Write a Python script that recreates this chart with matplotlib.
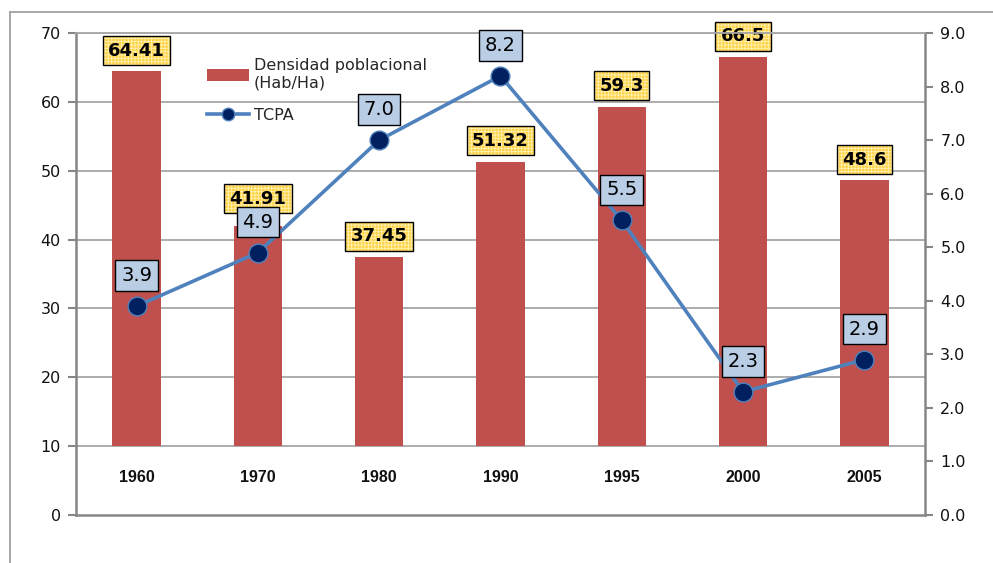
import matplotlib
matplotlib.use("Agg")
import matplotlib.pyplot as plt
from matplotlib.lines import Line2D
from matplotlib.patches import Patch

years = ["1960", "1970", "1980", "1990", "1995", "2000", "2005"]
densidad = [64.41, 41.91, 37.45, 51.32, 59.3, 66.5, 48.6]
densidad_labels = ["64.41", "41.91", "37.45", "51.32", "59.3", "66.5", "48.6"]
tcpa = [3.9, 4.9, 7.0, 8.2, 5.5, 2.3, 2.9]
tcpa_labels = ["3.9", "4.9", "7.0", "8.2", "5.5", "2.3", "2.9"]
left_ticks = [0, 10, 20, 30, 40, 50, 60, 70]
right_ticks = [0, 1, 2, 3, 4, 5, 6, 7, 8, 9]

plt.rcParams["font.family"] = ["DejaVu Sans"]
plt.rcParams["hatch.linewidth"] = 0.6

BAR = "#C0504D"
LINE = "#4F81BD"
MARK = "#002060"
GRID = "#A6A6A6"
AXC = "#868686"

fig = plt.figure(figsize=(9.93, 5.63), dpi=100)
ax = fig.add_axes([76 / 993, 48 / 563, 849 / 993, 482 / 563])
ax2 = ax.twinx()

x = list(range(len(years)))
base = 10
ax.bar(x, [d - base for d in densidad], bottom=base, width=0.40, color=BAR, zorder=2)
ax.set_xlim(-0.5, len(years) - 0.5)
ax.set_ylim(0, 70)
ax.set_yticks(left_ticks)
ax.set_yticklabels([str(t) for t in left_ticks], fontsize=11.5)
ax.set_xticks([])
for yv in left_ticks[1:]:
    ax.axhline(yv, color=GRID, lw=1.3, zorder=1)
for s in ["left", "bottom"]:
    ax.spines[s].set_color(AXC)
    ax.spines[s].set_linewidth(1.8)
ax.spines["top"].set_visible(False)
ax.spines["right"].set_visible(False)
ax.tick_params(axis="y", colors=AXC, length=6, width=1.5, labelcolor="#111111", pad=5)

for i, y in enumerate(years):
    ax.text(i, 5.4, y, ha="center", va="center", fontsize=11.5,
            fontweight="bold", family="Liberation Sans", color="#111111")

for i, (d, lab) in enumerate(zip(densidad, densidad_labels)):
    off = 20 if i == 1 else 15
    ax.annotate(lab, (i, d), xytext=(0, off), textcoords="offset points",
                ha="center", va="center", fontsize=13, fontweight="bold",
                color="#FFD966", zorder=5,
                bbox=dict(boxstyle="square,pad=0.3", fc="#FFD24A", ec="#FFF2B0",
                          lw=0, hatch="+++++"))
    ax.annotate(lab, (i, d), xytext=(0, off), textcoords="offset points",
                ha="center", va="center", fontsize=13, fontweight="bold",
                color="black", zorder=6,
                bbox=dict(boxstyle="square,pad=0.3", fc="none", ec="black", lw=1.0))

ax2.plot(x, tcpa, color=LINE, lw=2.6, marker="o", markersize=13.5,
         markerfacecolor=MARK, markeredgecolor=LINE, markeredgewidth=1.0, zorder=3)
ax2.set_ylim(0, 9)
ax2.set_yticks(right_ticks)
ax2.set_yticklabels([f"{t:.1f}" for t in right_ticks], fontsize=11.5)
ax2.tick_params(axis="y", colors=AXC, length=6, width=1.5, labelcolor="#111111", pad=5)
ax2.spines["right"].set_color(AXC)
ax2.spines["right"].set_linewidth(1.8)
for s in ["left", "bottom"]:
    ax2.spines[s].set_visible(False)
ax2.spines["top"].set_color(GRID)
ax2.spines["top"].set_linewidth(1.3)

for i, (t, lab) in enumerate(zip(tcpa, tcpa_labels)):
    ax2.annotate(lab, (i, t), xytext=(0, 22), textcoords="offset points",
                 ha="center", va="center", fontsize=14, color="black", zorder=6,
                 bbox=dict(boxstyle="square,pad=0.3", fc="#B9CDE5", ec="black", lw=1.0))

handles = [Patch(facecolor=BAR, edgecolor="none"),
           Line2D([0], [0], color=LINE, lw=2.6, marker="o", markersize=9,
                  markerfacecolor=MARK, markeredgecolor=LINE)]
ax2.legend(handles, ["Densidad poblacional\n(Hab/Ha)", "TCPA"],
           loc="upper left", bbox_to_anchor=(193 / 993, 1 - 44 / 563),
           bbox_transform=fig.transFigure, frameon=False, fontsize=11.5,
           labelcolor="#262626",
           handlelength=2.6, handleheight=0.7, labelspacing=1.05, handletextpad=0.3)

fig.add_artist(Line2D([10 / 993, 1], [1 - 12 / 563, 1 - 12 / 563],
                      transform=fig.transFigure, color="#A0A0A0", lw=1.3))
fig.add_artist(Line2D([10 / 993, 10 / 993], [0, 1 - 12 / 563],
                      transform=fig.transFigure, color="#A0A0A0", lw=1.3))

fig.savefig("out.png", dpi=100)
